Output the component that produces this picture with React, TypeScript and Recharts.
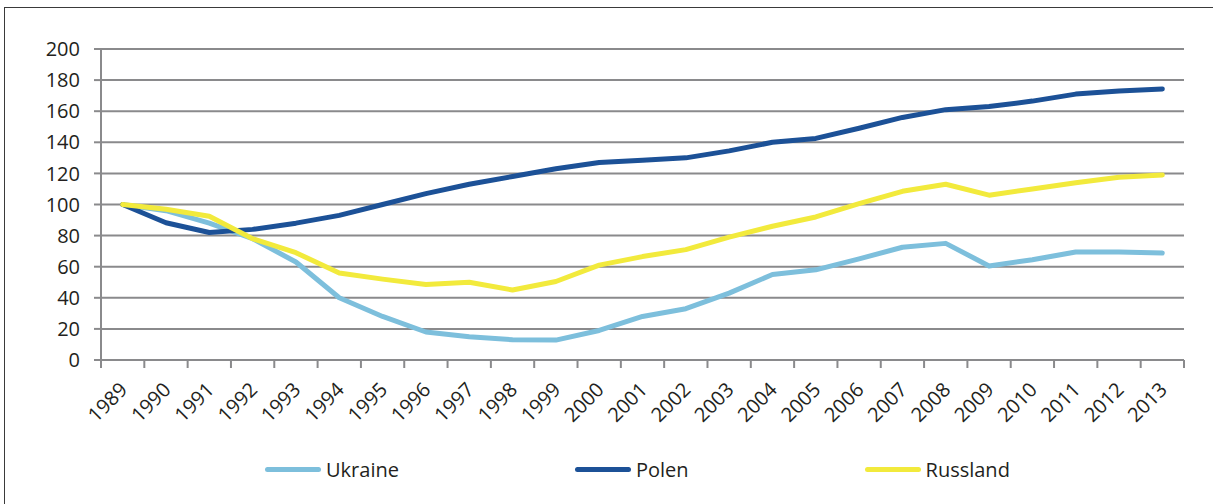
import React from 'react';
import { LineChart, Line, XAxis, YAxis, CartesianGrid } from 'recharts';

const years = [
  '1989', '1990', '1991', '1992', '1993', '1994', '1995', '1996', '1997', '1998', '1999', '2000', '2001',
  '2002', '2003', '2004', '2005', '2006', '2007', '2008', '2009', '2010', '2011', '2012', '2013',
];
const ukraine = [100, 96, 88, 78, 63, 40, 28, 18, 15, 13, 12.8, 19, 28, 33, 43, 55, 58, 65, 72.5, 75, 60.5, 64.5, 69.5, 69.5, 68.8];
const polen = [100, 88.3, 82, 84, 88, 93, 100, 107, 113, 118, 123, 127, 128.5, 130, 134.5, 140, 142.5, 149, 156, 161, 163, 166.5, 171, 173, 174.3];
const russland = [100, 97, 92.5, 78, 69, 56, 52, 48.5, 50, 45, 50.5, 61, 66.5, 71, 79, 86, 92, 100.5, 108.5, 113, 106, 110, 114, 117.5, 119];
const yTicks = [0, 20, 40, 60, 80, 100, 120, 140, 160, 180, 200];

const series = [
  { key: 'Ukraine', color: '#7dbfdc' },
  { key: 'Polen', color: '#1c5197' },
  { key: 'Russland', color: '#f2ea3c' },
];

const data = years.map((year, i) => ({
  year,
  Ukraine: ukraine[i],
  Polen: polen[i],
  Russland: russland[i],
}));

const W = 1213;
const H = 504;
const PLOT_LEFT = 101;
const PLOT_RIGHT = 1184;
const BAND = (PLOT_RIGHT - PLOT_LEFT) / years.length;
const axisGrey = '#8a8a8c';
const textColor = '#231f20';
const font = '"Open Sans", sans-serif';

function YearTick(props: any) {
  const { x, y, payload, index } = props;
  const last = index === years.length - 1;
  return (
    <g>
      <line x1={x - BAND / 2} x2={x - BAND / 2} y1={y} y2={y + 8} stroke={axisGrey} strokeWidth={2} />
      {last && <line x1={x + BAND / 2} x2={x + BAND / 2} y1={y} y2={y + 8} stroke={axisGrey} strokeWidth={2} />}
      <text
        transform={`translate(${x + 6},${y + 31}) rotate(-45)`}
        textAnchor="end"
        fontSize={20}
        fontFamily={font}
        fill={textColor}
      >
        {payload.value}
      </text>
    </g>
  );
}

export default function App() {
  return (
    <div style={{ position: 'absolute', left: 0, top: 0, width: W, height: H, overflow: 'hidden', background: '#fff' }}>
      <div
        style={{
          position: 'absolute', left: 4, top: 7, width: W + 20, height: H + 20,
          border: '1.5px solid #3a3a3a', boxSizing: 'border-box',
        }}
      />
      <div style={{ position: 'absolute', left: 0, top: 0 }}>
        <LineChart width={W} height={H} data={data} margin={{ top: 49, right: W - PLOT_RIGHT, left: 0, bottom: 0 }}>
          <CartesianGrid vertical={false} stroke={axisGrey} strokeWidth={2} />
          <XAxis
            dataKey="year"
            scale="band"
            height={144}
            interval={0}
            tickSize={0}
            tickMargin={0}
            tickLine={false}
            axisLine={{ stroke: axisGrey, strokeWidth: 2 }}
            tick={<YearTick />}
          />
          <YAxis
            width={PLOT_LEFT}
            domain={[0, 200]}
            ticks={yTicks}
            interval={0}
            tickSize={7}
            tickMargin={14}
            axisLine={{ stroke: axisGrey, strokeWidth: 2 }}
            tickLine={{ stroke: axisGrey, strokeWidth: 2 }}
            tick={{ fontSize: 20, fontFamily: font, fill: textColor }}
          />
          {series.map((s) => (
            <Line
              key={s.key}
              dataKey={s.key}
              type="linear"
              stroke={s.color}
              strokeWidth={5}
              strokeLinecap="round"
              strokeLinejoin="round"
              dot={false}
              activeDot={false}
              isAnimationActive={false}
            />
          ))}
        </LineChart>
      </div>
      <div
        style={{
          position: 'absolute', left: 265, top: 456, display: 'flex', gap: 176,
          fontFamily: font, fontSize: 20, color: textColor, alignItems: 'center',
        }}
      >
        {series.map((s) => (
          <div key={s.key} style={{ display: 'flex', alignItems: 'center' }}>
            <div style={{ width: 56, height: 5, borderRadius: 3, background: s.color, marginRight: 5 }} />
            <span>{s.key}</span>
          </div>
        ))}
      </div>
    </div>
  );
}
